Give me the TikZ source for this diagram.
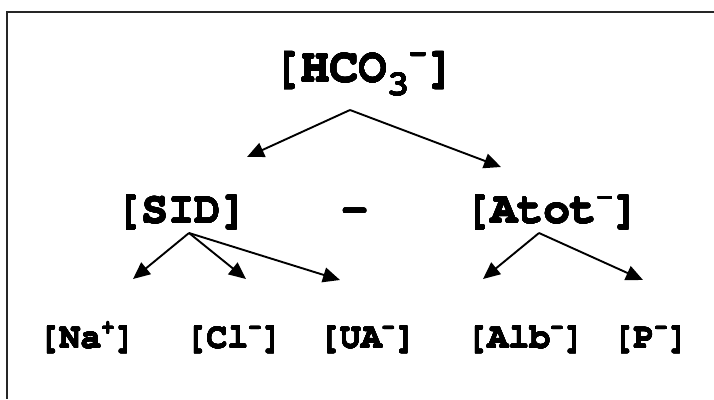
\documentclass[tikz,border=0pt]{standalone}
\usepackage[T1,TU]{fontenc}
\usepackage[copies]{contour}
\contourlength{0.25pt}
\usetikzlibrary{arrows.meta}
\newcommand{\courb}{\fontencoding{T1}\fontfamily{pcr}\fontseries{b}\selectfont}
\newcommand{\upsc}[1]{\raisebox{0.40em}{\fontsize{0.62em}{0.62em}\selectfont #1}}
\newcommand{\dnsc}[1]{\raisebox{-0.28em}{\fontsize{0.75em}{0.75em}\selectfont #1}}
\newcommand{\hv}[1]{\contour{black}{#1}}
\begin{document}
\begin{tikzpicture}[x=1pt,y=-1pt,
  lbl/.style={inner sep=0pt, anchor=base},
  top/.style={lbl, font=\fontsize{48}{48}\courb},
  big/.style={lbl, font=\fontsize{44}{44}\courb},
  small/.style={lbl, font=\fontsize{35}{35}\courb},
  arr/.style={line width=1.9pt, -{Triangle[length=17pt,width=15pt]}},
  frame/.style={line width=1.6pt, draw=black!85}]
\useasboundingbox (0,0) rectangle (714,399);
\draw[frame] (714,12) -- (7,12) -- (7,399);
\node[top] (hco) at (364,82) {\hv{[HCO\dnsc{3}\upsc{-}]}};
\node[big] (sid) at (181.5,223) {\hv{[SID]}};
\node[big] (minus) at (355,223) {\hv{-}};
\node[big] (atot) at (552,223) {\hv{[Atot\upsc{-}]}};
\node[small] (na) at (87,348) {\hv{[Na\upsc{+}]}};
\node[small] (cl) at (234,348) {\hv{[Cl\upsc{-}]}};
\node[small] (ua) at (367.5,348) {\hv{[UA\upsc{-}]}};
\node[small] (alb) at (525.5,348) {\hv{[Alb\upsc{-}]}};
\node[small] (p) at (650.5,348) {\hv{[P\upsc{-}]}};
\coordinate (hcoS) at (350,110);
\coordinate (sidS) at (189,233);
\coordinate (atotS) at (539,233);
\coordinate (sidT) at (247,157);
\coordinate (atotT) at (501,167);
\coordinate (naT) at (133,279);
\coordinate (clT) at (246,279);
\coordinate (uaT) at (340,280);
\coordinate (albT) at (483,279);
\coordinate (pT) at (643,280);
\draw[arr] (hcoS) -- (sidT);
\draw[arr] (hcoS) -- (atotT);
\draw[arr] (sidS) -- (naT);
\draw[arr] (sidS) -- (clT);
\draw[arr] (sidS) -- (uaT);
\draw[arr] (atotS) -- (albT);
\draw[arr] (atotS) -- (pT);
\end{tikzpicture}
\end{document}
